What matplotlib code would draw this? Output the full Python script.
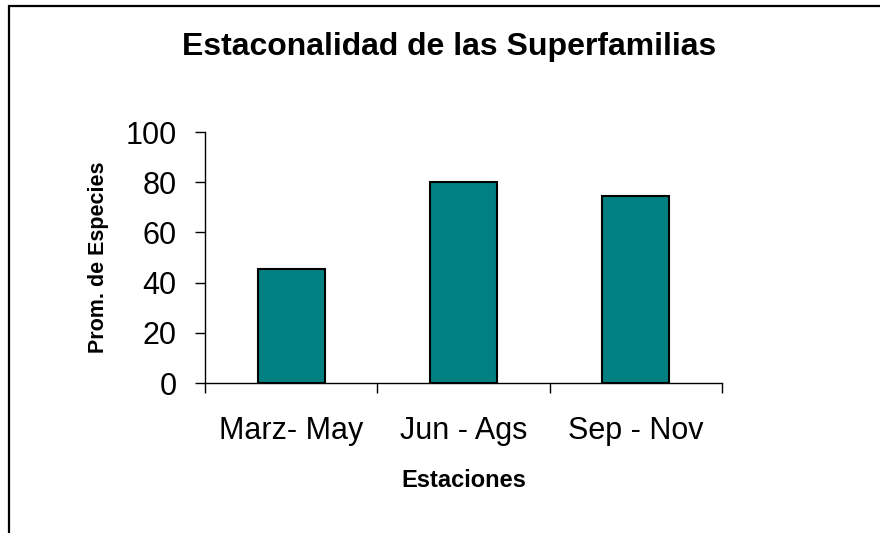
import matplotlib
matplotlib.use('Agg')
import matplotlib.pyplot as plt
from matplotlib.patches import Rectangle
from matplotlib.ticker import FixedLocator, NullFormatter

plt.rcParams['font.family'] = ['Liberation Sans', 'DejaVu Sans']

### data
estaciones = ['Marz- May', 'Jun - Ags', 'Sep - Nov']
prom_especies = [45.3, 80.0, 74.7]
y_ticks = [0, 20, 40, 60, 80, 100]

fig = plt.figure(figsize=(8.8, 5.33), dpi=100)
ax = fig.add_axes([0.233, 0.2814, 0.5875, 0.4709])

### outer chart border (right and bottom edges fall outside the picture)
fig.patches.append(Rectangle((8.5 / 880, -0.05), 1.0, 1 - 6 / 533 + 0.05,
                             transform=fig.transFigure, fill=False,
                             edgecolor='black', linewidth=1.6))

x = range(len(estaciones))
ax.bar(x, prom_especies, width=0.39, color='#008080', edgecolor='black', linewidth=1.5)

ax.set_xlim(-0.5, len(estaciones) - 0.5)
ax.set_ylim(0, 100)
ax.set_yticks(y_ticks)
ax.set_xticks(list(x))
ax.set_xticklabels(estaciones)
ax.xaxis.set_minor_locator(FixedLocator([i - 0.5 for i in range(len(estaciones) + 1)]))
ax.xaxis.set_minor_formatter(NullFormatter())

for side in ['top', 'right']:
    ax.spines[side].set_visible(False)
ax.spines['left'].set_linewidth(1.0)
ax.spines['bottom'].set_linewidth(1.0)

ax.tick_params(axis='y', direction='out', length=7, width=1, pad=13.5, labelsize=22)
ax.tick_params(axis='x', which='major', length=0, pad=24, labelsize=22)
ax.tick_params(axis='x', which='minor', direction='out', length=7, width=1)

ax.set_ylabel('Prom. de Especies', fontsize=15.5, fontweight='bold', labelpad=12)
ax.set_xlabel('Estaciones', fontsize=17, fontweight='bold', labelpad=16)
fig.text(449.5 / 880, 1 - 55 / 533, 'Estaconalidad de las Superfamilias',
         ha='center', va='baseline', fontsize=23, fontweight='bold')

fig.savefig('out.png', dpi=100)
